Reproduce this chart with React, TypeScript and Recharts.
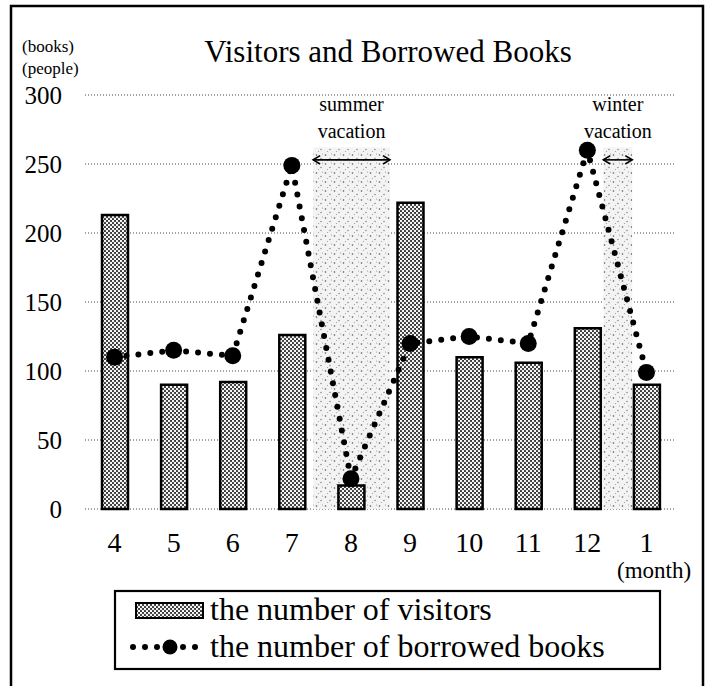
import React from 'react';
import {
  ComposedChart,
  Bar,
  Line,
  XAxis,
  YAxis,
  CartesianGrid,
  ReferenceArea,
  ReferenceLine,
} from 'recharts';

const months = ['4', '5', '6', '7', '8', '9', '10', '11', '12', '1'];
const visitors = [213, 90, 92, 126, 17, 222, 110, 106, 131, 90];
const borrowedBooks = [110, 115, 111, 249, 22, 120, 125, 120, 260, 99];
const yTicks = [0, 50, 100, 150, 200, 250, 300];
const monthIndexTicks = [0, 1, 2, 3, 4, 5, 6, 7, 8, 9];
const vacationLabels = [
  ['summer', 'vacation'],
  ['winter', 'vacation'],
];
const vacationStart = [3.36, 8.27];
const vacationEnd = [4.66, 8.76];
const vacationTop = 262;
const arrowLevel = 253;

const titleText = 'Visitors and Borrowed Books';
const seriesNames = ['the number of visitors', 'the number of borrowed books'];

const data = months.map((m, i) => ({
  idx: i,
  month: m,
  visitors: visitors[i],
  books: borrowedBooks[i],
}));

const FONT = "'Liberation Serif', 'Times New Roman', serif";

const arrowShape = (p: any) => {
  const { x1, y1, x2, y2 } = p;
  const h = 7;
  return (
    <g>
      <line x1={x1} y1={y1} x2={x2} y2={y2} stroke="#000" strokeWidth={1.6} />
      <polyline
        points={`${x1 + h},${y1 - h * 0.6} ${x1},${y1} ${x1 + h},${y1 + h * 0.6}`}
        fill="none"
        stroke="#000"
        strokeWidth={1.6}
      />
      <polyline
        points={`${x2 - h},${y2 - h * 0.6} ${x2},${y2} ${x2 - h},${y2 + h * 0.6}`}
        fill="none"
        stroke="#000"
        strokeWidth={1.6}
      />
    </g>
  );
};

const makeVacationLabel = (lines: string[]) => (props: any) => {
  const vb = props.viewBox || {};
  const cx = vb.x + vb.width / 2;
  return (
    <text textAnchor="middle" fontFamily={FONT} fontSize={20} fill="#000">
      <tspan x={cx} y={vb.y - 36}>
        {lines[0]}
      </tspan>
      <tspan x={cx} y={vb.y - 9}>
        {lines[1]}
      </tspan>
    </text>
  );
};

export default function App() {
  return (
    <div
      style={{
        position: 'absolute',
        left: 0,
        top: 0,
        width: 708,
        height: 686,
        overflow: 'hidden',
        background: '#fff',
      }}
    >
      <div style={{ position: 'absolute', left: 0, top: 0 }}>
        <ComposedChart
          width={708}
          height={686}
          data={data}
          margin={{ top: 95, right: 32, bottom: 147, left: 0 }}
        >
          <defs>
            <pattern id="barDots" width="4" height="4" patternUnits="userSpaceOnUse">
              <rect width="4" height="4" fill="#3a3a3a" />
              <circle cx="1" cy="1" r="1.15" fill="#fff" />
              <circle cx="3" cy="3" r="1.15" fill="#fff" />
            </pattern>
            <pattern id="speckle" width="9" height="9" patternUnits="userSpaceOnUse">
              <rect width="9" height="9" fill="#f3f3f3" />
              <circle cx="1.5" cy="2" r="0.8" fill="#555" />
              <circle cx="6" cy="5.5" r="0.7" fill="#777" />
              <circle cx="3.5" cy="7.5" r="0.6" fill="#999" />
              <circle cx="7.5" cy="1" r="0.5" fill="#888" />
            </pattern>
          </defs>
          <CartesianGrid vertical={false} stroke="#444" strokeDasharray="1 2" />
          <XAxis
            type="number"
            dataKey="idx"
            domain={[-0.5, 9.5]}
            ticks={monthIndexTicks}
            interval={0}
            tickFormatter={(i: number) => months[i]}
            axisLine={false}
            tickLine={false}
            tickSize={0}
            tickMargin={23}
            height={30}
            tick={{ fontSize: 28, fill: '#000', fontFamily: FONT }}
          />
          <YAxis
            domain={[0, 300]}
            ticks={yTicks}
            interval={0}
            width={85}
            axisLine={false}
            tickLine={false}
            tickSize={0}
            tickMargin={23}
            tick={{ fontSize: 25, fill: '#000', fontFamily: FONT }}
          />
          {vacationStart.map((s, i) => (
            <ReferenceArea
              key={'va' + i}
              x1={s}
              x2={vacationEnd[i]}
              y1={0}
              y2={vacationTop}
              fill="url(#speckle)"
              fillOpacity={1}
              stroke="none"
              label={makeVacationLabel(vacationLabels[i])}
            />
          ))}
          {vacationStart.map((s, i) => (
            <ReferenceLine
              key={'vl' + i}
              segment={[
                { x: s, y: arrowLevel },
                { x: vacationEnd[i], y: arrowLevel },
              ]}
              shape={arrowShape}
            />
          ))}
          <Bar
            dataKey="visitors"
            name={seriesNames[0]}
            barSize={26}
            fill="url(#barDots)"
            stroke="#000"
            strokeWidth={2.5}
            isAnimationActive={false}
          />
          <Line
            type="linear"
            dataKey="books"
            name={seriesNames[1]}
            stroke="#000"
            strokeWidth={6}
            strokeDasharray="0 12"
            strokeLinecap="round"
            dot={{ r: 8.5, fill: '#000', stroke: '#000', strokeWidth: 0 }}
            activeDot={false}
            isAnimationActive={false}
          />
        </ComposedChart>
      </div>
      <svg
        width={708}
        height={686}
        style={{ position: 'absolute', left: 0, top: 0, pointerEvents: 'none' }}
      >
        <defs>
          <pattern id="legendDots" width="4" height="4" patternUnits="userSpaceOnUse">
            <rect width="4" height="4" fill="#3a3a3a" />
            <circle cx="1" cy="1" r="1.15" fill="#fff" />
            <circle cx="3" cy="3" r="1.15" fill="#fff" />
          </pattern>
        </defs>
        <path d="M11 686 L11 6 L703 6 L703 686" fill="none" stroke="#000" strokeWidth={2.5} />
        <text x={388} y={62} textAnchor="middle" fontFamily={FONT} fontSize={31} fill="#000">
          {titleText}
        </text>
        <text x={22} y={52} fontFamily={FONT} fontSize={17} fill="#000">
          (books)
        </text>
        <text x={22} y={74} fontFamily={FONT} fontSize={17} fill="#000">
          (people)
        </text>
        <text x={617} y={578} fontFamily={FONT} fontSize={23} fill="#000">
          (month)
        </text>
        <rect x={115} y={591} width={545} height={78} fill="none" stroke="#000" strokeWidth={2.2} />
        <rect x={136} y={603} width={67} height={15} fill="url(#legendDots)" stroke="#000" strokeWidth={2} />
        <text x={210} y={620} fontFamily={FONT} fontSize={32} fill="#000">
          {seriesNames[0]}
        </text>
        {[133, 145, 157, 183, 195].map((cx) => (
          <circle key={cx} cx={cx} cy={647} r={3} fill="#000" />
        ))}
        <circle cx={170} cy={647} r={7.5} fill="#000" />
        <text x={210} y={657} fontFamily={FONT} fontSize={32} fill="#000">
          {seriesNames[1]}
        </text>
      </svg>
    </div>
  );
}
